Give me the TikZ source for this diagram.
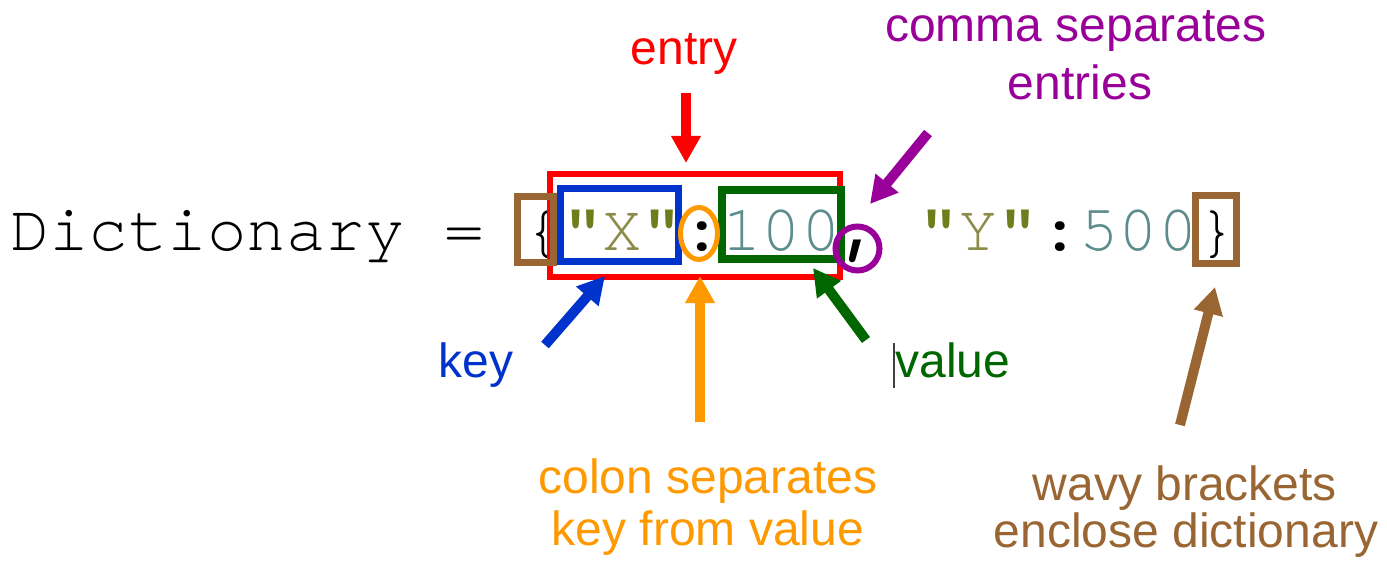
\documentclass[tikz,border=0pt]{standalone}
\usepackage{fontspec}
\setmainfont{Liberation Sans}
\newfontfamily\courfam[Extension=.otf,UprightFont=*-regular,BoldFont=*-bold]{texgyrecursor}
\usetikzlibrary{arrows.meta,shapes.geometric}
\definecolor{cred}{HTML}{FF0000}
\definecolor{cblue}{HTML}{0033CC}
\definecolor{cgreen}{HTML}{006600}
\definecolor{corange}{HTML}{FF9900}
\definecolor{cpurple}{HTML}{990099}
\definecolor{cbrown}{HTML}{996633}
\definecolor{cquote}{HTML}{6E7E1C}
\definecolor{cstr}{HTML}{8C8C4A}
\definecolor{cnum}{HTML}{5C8C8C}
\newcommand{\courfont}{\courfam\fontsize{65.83}{70}\selectfont}
\newcommand{\qq}{{\bfseries\textcolor{cquote}{"}}}
\begin{document}
\begin{tikzpicture}[x=1pt,y=-1pt,
  code/.style={inner sep=0pt, outer sep=0pt, anchor=base west, font=\courfont},
  lab/.style={inner sep=0pt, anchor=base, font=\fontsize{48}{52}\selectfont},
  arr/.style={line width=10pt, -{Triangle[width=28pt,length=27pt]}},
  hbox/.style={draw, rectangle, inner sep=0pt, outer sep=0pt}]
\useasboundingbox[fill=white] (0,0) rectangle (1387,567);

% code line
\node[code] (dict) at (10,250) {Dictionary\ =\ };
\node[code] (lb) at (523.5,250) {\{};
\node[code] (kx) at (563,250) {\qq\textcolor{cstr}{X}\qq};
\node[code] (c1) at (682.5,250) {\bfseries :};
\node[code, text=cnum] (v1) at (722,250) {100};
\node[code] (cm) at (840,250) {\bfseries ,};
\node[code] (ky) at (919,250) {\qq\textcolor{cstr}{Y}\qq};
\node[code] (c2) at (1040.5,250) {\bfseries :};
\node[code, text=cnum] (v2) at (1079,250) {500};
\node[code] (rb) at (1197,250) {\}};

% highlight boxes
\node[hbox, draw=cred, line width=6pt, minimum width=290pt, minimum height=103pt] (entrybox) at (695,225.5) {};
\node[hbox, draw=cblue, line width=7pt, minimum width=118pt, minimum height=73pt] (keybox) at (619.5,225) {};
\node[hbox, draw=cgreen, line width=8pt, minimum width=119pt, minimum height=69pt] (valbox) at (781.5,224.5) {};
\node[hbox, draw=cbrown, line width=7pt, minimum width=36pt, minimum height=66pt] (lbbox) at (535.5,229.5) {};
\node[hbox, draw=cbrown, line width=7pt, minimum width=41pt, minimum height=68pt] (rbbox) at (1216,229.5) {};
\node[draw=cpurple, circle, line width=6pt, inner sep=0pt, minimum size=44pt] (commaring) at (857.5,248.5) {};
\node[draw=corange, ellipse, line width=5pt, inner sep=0pt, minimum width=37pt, minimum height=52pt] (colonring) at (699,233.5) {};

% labels
\node[lab, text=cred] (lentry) at (684,65) {entry};
\node[lab, text=cpurple] (lcomma1) at (1076,42) {comma separates};
\node[lab, text=cpurple] (lcomma2) at (1080,100) {entries};
\node[lab, text=cblue] (lkey) at (476,377) {key};
\node[lab, text=cgreen] (lvalue) at (953,377) {value};
\node[lab, text=corange] (lcolon1) at (708,493) {colon separates};
\node[lab, text=corange] (lcolon2) at (708,545) {key from value};
\node[lab, text=cbrown] (lwavy1) at (1185,500) {wavy brackets};
\node[lab, text=cbrown] (lwavy2) at (1186,547) {enclose dictionary};

% text cursor
\draw[line width=1.5pt, black!75] (894,343) -- (894,388);

% arrow ends
\coordinate (aT1) at (686,93);   \coordinate (aH1) at (686,163);
\coordinate (aT2) at (928,133);  \coordinate (aH2) at (870,204);
\coordinate (aT3) at (545,345);  \coordinate (aH3) at (605,276);
\coordinate (aT4) at (700,422);  \coordinate (aH4) at (700,276);
\coordinate (aT5) at (866,340);  \coordinate (aH5) at (813,268);
\coordinate (aT6) at (1180,425); \coordinate (aH6) at (1215,287);

\draw[arr, cred] (aT1) -- (aH1);
\draw[arr, cpurple] (aT2) -- (aH2);
\draw[arr, cblue] (aT3) -- (aH3);
\draw[arr, corange] (aT4) -- (aH4);
\draw[arr, cgreen] (aT5) -- (aH5);
\draw[arr, cbrown] (aT6) -- (aH6);
\end{tikzpicture}
\end{document}
